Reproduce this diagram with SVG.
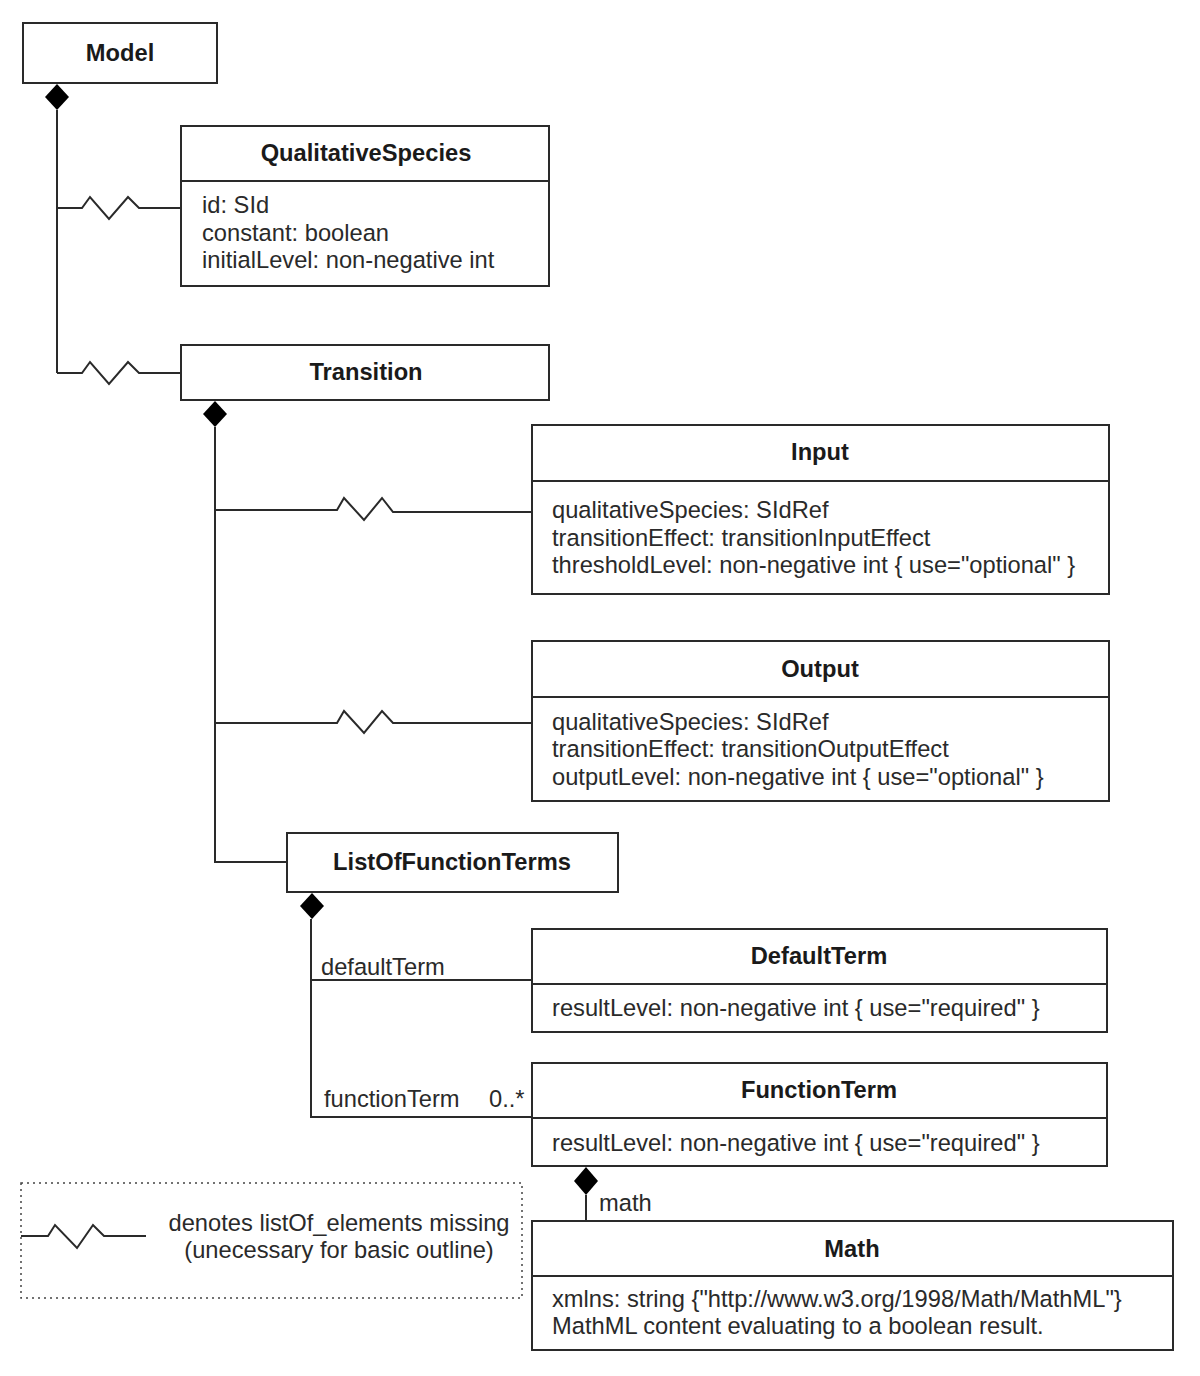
<svg xmlns="http://www.w3.org/2000/svg" width="1200" height="1376" viewBox="0 0 1200 1376">
<style>
  .box { fill: #ffffff; stroke: #2a2a2a; stroke-width: 2; }
  .ln { fill: none; stroke: #2a2a2a; stroke-width: 2; }
  .title { font-family: "Liberation Sans", Arial, sans-serif; font-size: 23.7px; font-weight: bold; fill: #1a1a1a; text-anchor: middle; }
  .attr { font-family: "Liberation Sans", Arial, sans-serif; font-size: 23.7px; fill: #2a2a2a; }
  .lbl { font-family: "Liberation Sans", Arial, sans-serif; font-size: 23.7px; fill: #2a2a2a; }
  .dia { fill: #000000; stroke: none; }
  .legend { fill: none; stroke: #444; stroke-width: 1.5; stroke-dasharray: 2 4; }
</style>
<rect width="1200" height="1376" fill="#ffffff"/>

<g id="connectors">
  <!-- Model composition -->
  <polygon class="dia" points="57,84 69,97 57,110 45,97"/>
  <path class="ln" d="M57,110 V373"/>
  <path class="ln" d="M57,208 H82 L90,197 L109,219 L128,197 L139,208 H181"/>
  <path class="ln" d="M57,373 H82 L90,362 L109,384 L128,362 L139,373 H181"/>
  <!-- Transition composition -->
  <polygon class="dia" points="215,401 227,414 215,427 203,414"/>
  <path class="ln" d="M215,427 V862 H287"/>
  <path class="ln" d="M215,510 H337 L344,498 L364,520 L382,498 L393,512 H532"/>
  <path class="ln" d="M215,723 H337 L344,711 L364,733 L382,711 L393,723 H532"/>
  <!-- ListOfFunctionTerms composition -->
  <polygon class="dia" points="312,893 324,906 312,919 300,906"/>
  <path class="ln" d="M311,919 V1117 H532"/>
  <path class="ln" d="M311,980 H532"/>
  <text class="lbl" x="321" y="975">defaultTerm</text>
  <text class="lbl" x="324" y="1107">functionTerm</text>
  <text class="lbl" x="489" y="1107">0..*</text>
  <!-- FunctionTerm to Math -->
  <polygon class="dia" points="586,1167 598,1181 586,1195 574,1181"/>
  <path class="ln" d="M586,1195 V1221"/>
  <text class="lbl" x="599" y="1211">math</text>
</g>

<g id="Model">
  <rect class="box" x="23" y="23" width="194" height="60"/>
  <text class="title" x="120" y="61">Model</text>
</g>

<g id="QualitativeSpecies">
  <rect class="box" x="181" y="126" width="368" height="160"/>
  <path class="ln" d="M181,181 H549"/>
  <text class="title" x="366" y="161">QualitativeSpecies</text>
  <text class="attr" x="202" y="213">id: SId</text>
  <text class="attr" x="202" y="241">constant: boolean</text>
  <text class="attr" x="202" y="268">initialLevel: non-negative int</text>
</g>

<g id="Transition">
  <rect class="box" x="181" y="345" width="368" height="55"/>
  <text class="title" x="366" y="380">Transition</text>
</g>

<g id="Input">
  <rect class="box" x="532" y="425" width="577" height="169"/>
  <path class="ln" d="M532,481 H1109"/>
  <text class="title" x="820" y="460">Input</text>
  <text class="attr" x="552" y="518">qualitativeSpecies: SIdRef</text>
  <text class="attr" x="552" y="546">transitionEffect: transitionInputEffect</text>
  <text class="attr" x="552" y="573">thresholdLevel: non-negative int { use="optional" }</text>
</g>

<g id="Output">
  <rect class="box" x="532" y="641" width="577" height="160"/>
  <path class="ln" d="M532,697 H1109"/>
  <text class="title" x="820" y="677">Output</text>
  <text class="attr" x="552" y="730">qualitativeSpecies: SIdRef</text>
  <text class="attr" x="552" y="757">transitionEffect: transitionOutputEffect</text>
  <text class="attr" x="552" y="785">outputLevel: non-negative int { use="optional" }</text>
</g>

<g id="ListOfFunctionTerms">
  <rect class="box" x="287" y="833" width="331" height="59"/>
  <text class="title" x="452" y="870">ListOfFunctionTerms</text>
</g>

<g id="DefaultTerm">
  <rect class="box" x="532" y="929" width="575" height="103"/>
  <path class="ln" d="M532,984 H1107"/>
  <text class="title" x="819" y="964">DefaultTerm</text>
  <text class="attr" x="552" y="1016">resultLevel: non-negative int { use="required" }</text>
</g>

<g id="FunctionTerm">
  <rect class="box" x="532" y="1063" width="575" height="103"/>
  <path class="ln" d="M532,1118 H1107"/>
  <text class="title" x="819" y="1098">FunctionTerm</text>
  <text class="attr" x="552" y="1151">resultLevel: non-negative int { use="required" }</text>
</g>

<g id="Math">
  <rect class="box" x="532" y="1221" width="641" height="129"/>
  <path class="ln" d="M532,1276 H1173"/>
  <text class="title" x="852" y="1257">Math</text>
  <text class="attr" x="552" y="1307">xmlns: string {"http://www.w3.org/1998/Math/MathML"}</text>
  <text class="attr" x="552" y="1334">MathML content evaluating to a boolean result.</text>
</g>

<g id="Legend">
  <rect class="legend" x="21" y="1183" width="501" height="115"/>
  <path class="ln" d="M21,1236 H48 L55,1225 L77,1248 L93,1225 L104,1236 H146"/>
  <text class="lbl" x="339" y="1231" text-anchor="middle">denotes listOf_elements missing</text>
  <text class="lbl" x="339" y="1258" text-anchor="middle">(unecessary for basic outline)</text>
</g>
</svg>
